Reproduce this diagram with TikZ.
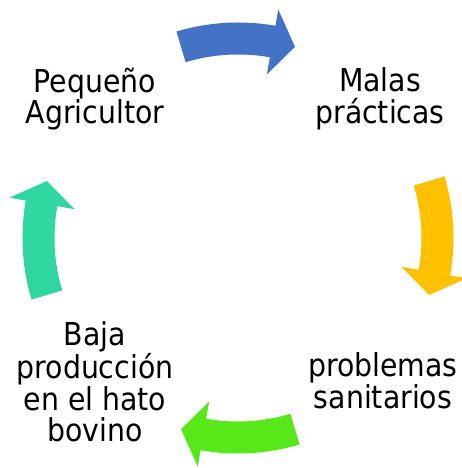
\documentclass[tikz,border=0pt]{standalone}
\usepackage{fontspec}
\setmainfont{DejaVu Sans Condensed}
\begin{document}
\begin{tikzpicture}[x=1pt,y=1pt,
  lbl/.style={align=center,font=\fontsize{31.5}{31.5}\selectfont,inner sep=0pt}]
\useasboundingbox (0,0) rectangle (462,468);
\definecolor{cblue}{RGB}{68,114,196}
\definecolor{cyellow}{RGB}{255,192,0}
\definecolor{cgreen}{RGB}{88,232,26}
\definecolor{cteal}{RGB}{48,214,160}
\coordinate (C) at (238,230);
% arrow macro: #1 = middle angle, #2 = colour
\newcommand{\cycarrow}[2]{%
  \pgfmathsetmacro{\ta}{#1+16.6}%
  \pgfmathsetmacro{\ha}{#1-10}%
  \pgfmathsetmacro{\pa}{#1-16.6}%
  \fill[#2,shift={(C)}] (\ta:215.5pt) arc[start angle=\ta, end angle=\ha, radius=215.5pt]
     -- (\ha:232pt) -- (\pa:199.5pt) -- (\ha:166pt) -- (\ha:183.5pt)
     arc[start angle=\ha, end angle=\ta, radius=183.5pt] -- cycle;}
\cycarrow{90}{cblue}
\cycarrow{0}{cyellow}
\cycarrow{-90}{cgreen}
\cycarrow{180}{cteal}
\node[lbl] (pa) at (95,369) {Pequeño\\Agricultor};
\node[lbl] (mp) at (380,369) {Malas\\prácticas};
\node[lbl] (ps) at (383,87) {problemas\\sanitarios};
\node[lbl] (bp) at (95,86) {Baja\\producción\\en el hato\\bovino};
\end{tikzpicture}
\end{document}
